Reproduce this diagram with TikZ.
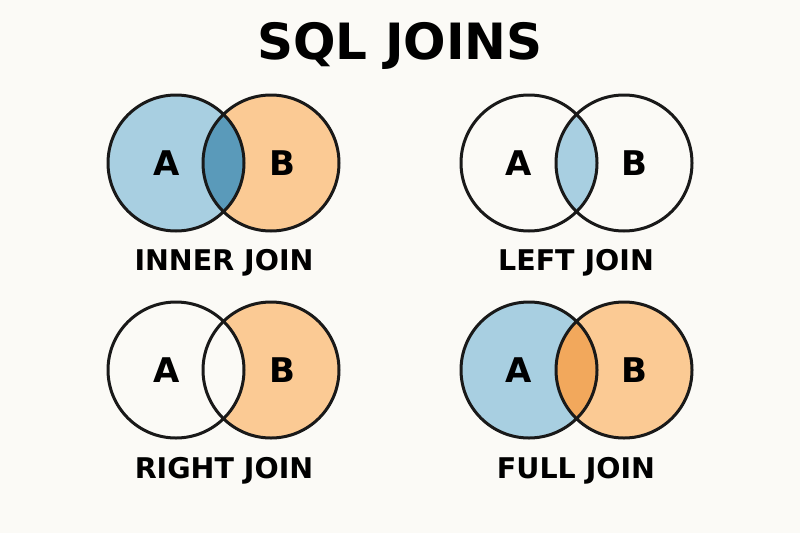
\documentclass[tikz,border=0pt]{standalone}
\usepackage{fontspec}
\setmainfont{DejaVu Sans}
\usetikzlibrary{positioning}
\definecolor{setA}{HTML}{A8CFE1}
\definecolor{setB}{HTML}{FBCA94}
\definecolor{both}{HTML}{5A9ABA}
\definecolor{bothfull}{HTML}{F2A85C}
\definecolor{paper}{HTML}{FBFAF6}
\begin{document}
\begin{tikzpicture}[x=1pt, y=-1pt, ring/.style = {draw=black!90, line width=3pt},
	setname/.style = {font=\bfseries\fontsize{34}{34}\selectfont},
	joinname/.style = {font=\bfseries\fontsize{28.5}{28.5}\selectfont}]
	\fill[paper] (0,0) rectangle (800,533);
	\useasboundingbox (0,0) rectangle (800,533);
	\node[font=\bfseries\fontsize{50}{50}\selectfont] (title) at (400,46) {SQL JOINS};
	% inner join
	\fill[setA] (176,163) circle (68);
	\fill[setB] (271,163) circle (68);
	\begin{scope}
		\clip (176,163) circle (68);
		\fill[both] (271,163) circle (68);
	\end{scope}
	\draw[ring] (176,163) circle (68) (271,163) circle (68);
	\node[setname] (ia) at (167,163) {A};
	\node[setname] (ib) at (282,163) {B};
	\node[joinname] (inner) at (224,263) {INNER JOIN};
	% left join
	\begin{scope}
		\clip (529,163) circle (68);
		\fill[setA] (624,163) circle (68);
	\end{scope}
	\draw[ring] (529,163) circle (68) (624,163) circle (68);
	\node[setname] (la) at (519,163) {A};
	\node[setname] (lb) at (634,163) {B};
	\node[joinname] (left) at (576,263) {LEFT JOIN};
	% right join
	\fill[setB] (271,370) circle (68);
	\fill[paper] (176,370) circle (68);
	\draw[ring] (176,370) circle (68) (271,370) circle (68);
	\node[setname] (ra) at (167,370) {A};
	\node[setname] (rb) at (282,370) {B};
	\node[joinname] (right) at (224,471) {RIGHT JOIN};
	% full join
	\fill[setA] (529,370) circle (68);
	\fill[setB] (624,370) circle (68);
	\begin{scope}
		\clip (529,370) circle (68);
		\fill[bothfull] (624,370) circle (68);
	\end{scope}
	\draw[ring] (529,370) circle (68) (624,370) circle (68);
	\node[setname] (fa) at (519,370) {A};
	\node[setname] (fb) at (634,370) {B};
	\node[joinname] (full) at (576,471) {FULL JOIN};
\end{tikzpicture}
\end{document}
